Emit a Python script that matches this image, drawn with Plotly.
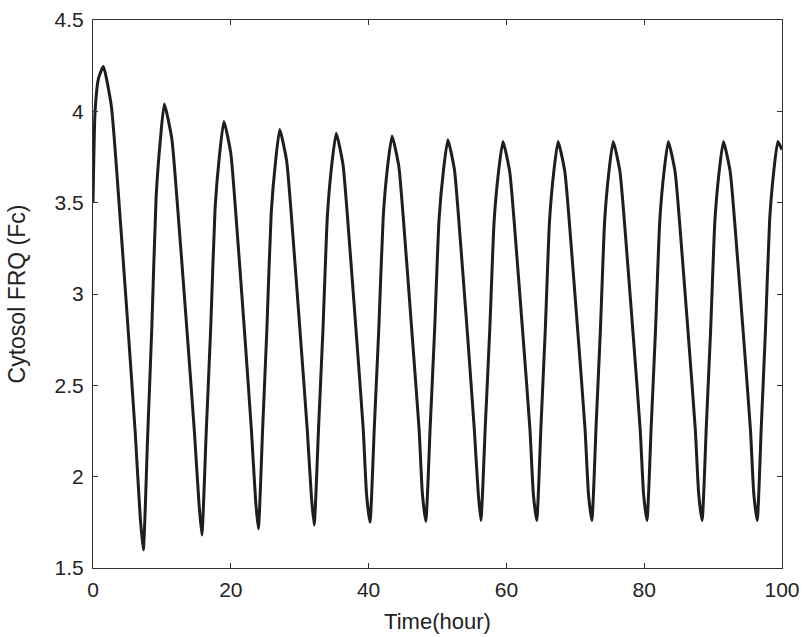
import plotly.graph_objects as go

# Time (hour) and Cytosol FRQ (Fc) values
time_h = [
    0.0, 0.3, 0.8, 1.5,
    2.66, 3.41, 4.98, 6.14, 6.84, 7.3,
    7.92, 8.54, 9.16, 9.78, 10.35,
    11.44, 12.15, 13.62, 14.71, 15.39, 15.8,
    16.44, 17.08, 17.72, 18.36, 19.0,
    20.0, 20.65, 22.0, 23.0, 23.6, 24.0,
    24.62, 25.24, 25.86, 26.48, 27.1,
    28.1, 28.75, 30.1, 31.1, 31.7, 32.1,
    32.74, 33.38, 34.02, 34.66, 35.3,
    36.28, 36.92, 38.24, 39.22, 39.71, 40.2,
    40.84, 41.48, 42.12, 42.76, 43.4,
    44.38, 45.02, 46.34, 47.32, 47.81, 48.3,
    48.94, 49.58, 50.22, 50.86, 51.5,
    52.46, 53.08, 54.38, 55.34, 55.92, 56.3,
    56.94, 57.58, 58.22, 58.86, 59.5,
    60.48, 61.12, 62.44, 63.42, 63.91, 64.4,
    65.02, 65.64, 66.26, 66.88, 67.5,
    68.48, 69.12, 70.44, 71.42, 71.91, 72.4,
    73.02, 73.64, 74.26, 74.88, 75.5,
    76.48, 77.12, 78.44, 79.42, 79.91, 80.4,
    81.02, 81.64, 82.26, 82.88, 83.5,
    84.48, 85.12, 86.44, 87.42, 87.91, 88.4,
    89.02, 89.64, 90.26, 90.88, 91.5,
    92.48, 93.12, 94.44, 95.42, 95.91, 96.4,
    97.0, 97.6, 98.2, 98.8, 99.4, 100.0,
]
frq_fc = [
    3.50, 4.00, 4.18, 4.245,
    4.03, 3.69, 2.87, 2.235, 1.785, 1.60,
    2.21, 2.82, 3.53, 3.845, 4.04,
    3.85, 3.54, 2.81, 2.25, 1.85, 1.68,
    2.25, 2.81, 3.47, 3.76, 3.945,
    3.77, 3.48, 2.79, 2.25, 1.87, 1.715,
    2.26, 2.81, 3.44, 3.72, 3.90,
    3.73, 3.45, 2.77, 2.255, 1.89, 1.735,
    2.27, 2.81, 3.43, 3.71, 3.88,
    3.71, 3.43, 2.77, 2.26, 1.90, 1.75,
    2.28, 2.81, 3.42, 3.70, 3.865,
    3.70, 3.425, 2.765, 2.265, 1.905, 1.755,
    2.275, 2.80, 3.405, 3.675, 3.845,
    3.68, 3.41, 2.765, 2.26, 1.905, 1.76,
    2.28, 2.80, 3.40, 3.67, 3.835,
    3.67, 3.40, 2.756, 2.258, 1.905, 1.76,
    2.28, 2.80, 3.40, 3.67, 3.835,
    3.67, 3.40, 2.756, 2.258, 1.905, 1.76,
    2.28, 2.80, 3.40, 3.67, 3.835,
    3.67, 3.40, 2.756, 2.258, 1.905, 1.76,
    2.28, 2.80, 3.40, 3.67, 3.835,
    3.67, 3.40, 2.756, 2.258, 1.905, 1.76,
    2.28, 2.80, 3.40, 3.67, 3.835,
    3.67, 3.40, 2.756, 2.258, 1.905, 1.76,
    2.28, 2.80, 3.40, 3.67, 3.835, 3.79,
]

x_ticks = [0, 20, 40, 60, 80, 100]
x_tick_labels = ["0", "20", "40", "60", "80", "100"]
y_ticks = [1.5, 2, 2.5, 3, 3.5, 4, 4.5]
y_tick_labels = ["1.5", "2", "2.5", "3", "3.5", "4", "4.5"]

fig = go.Figure()
fig.add_trace(go.Scatter(
    x=time_h, y=frq_fc, mode="lines",
    line=dict(color="#1e1e1e", width=3, shape="spline", smoothing=0.5),
    showlegend=False, hoverinfo="skip",
))

font_family = "Liberation Sans, Arial, sans-serif"
axis_common = dict(
    showline=True, linecolor="#333333", linewidth=1, mirror="ticks",
    ticks="inside", ticklen=5, tickcolor="#333333", tickwidth=1,
    showgrid=False, zeroline=False, automargin=False,
    tickfont=dict(family=font_family, size=21, color="#222222"),
)

fig.update_layout(
    width=806, height=637,
    margin=dict(l=93, r=24, t=20, b=69),
    paper_bgcolor="white", plot_bgcolor="white",
    xaxis=dict(
        range=[0, 100], tickvals=x_ticks, ticktext=x_tick_labels,
        title=dict(text="Time(hour)", standoff=13,
                   font=dict(family=font_family, size=22, color="#222222")),
        ticklabelstandoff=3,
        **axis_common,
    ),
    yaxis=dict(
        range=[1.5, 4.5], tickvals=y_ticks, ticktext=y_tick_labels,
        title=dict(text="Cytosol FRQ (Fc)", standoff=22,
                   font=dict(family=font_family, size=23, color="#222222")),
        ticklabelstandoff=4,
        **axis_common,
    ),
)

fig.write_html("out.html")
